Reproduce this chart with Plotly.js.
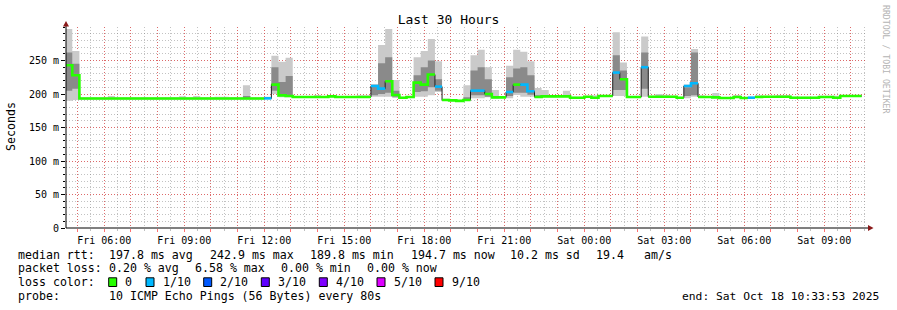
<!DOCTYPE html>
<html><head><meta charset="utf-8">
<script src="https://cdn.plot.ly/plotly-3.0.1.min.js"></script>
<style>html,body{margin:0;padding:0;background:#fff;}#chart{width:897px;height:310px;}</style>
</head><body><div id="chart"></div>
<script>
// ---- time frame ----
const graphStart = '2025-10-17T04:33:53Z';
const graphEnd   = '2025-10-18T10:33:53Z';
const firstBin   = '2025-10-17T04:32:00Z';
const binMinutes = 16;

// ---- median RTT per 16-minute bin (ms) ----
const medianMs = [
 243,228,193.2,193.2,193.2,193.2,193.2,193.2,193.2,193.2,
 193.2,193.2,193.2,193.2,193.2,193.2,193.2,193.2,193.2,193.2,
 193.2,193.2,193.2,193.2,193.2,193.2,193.2,193.2,193.5,214,
 198,197,195.5,195.5,195.5,195.5,195.5,196.5,195.5,195.5,
 195.5,195.5,195.5,212,208,219,198.5,194.5,195.5,217,
 214,229,211,191,190.5,189.8,191,205,205,200,
 195,195,203,214,214,204,195.5,196.5,196.5,196.5,
 196.5,194.5,194.5,196,194.5,197,197,232,222,195.5,
 195.5,240,196,196,196,196,194.5,212,216,195.5,
 195.5,195,194,194,195.5,194,194.5,195.5,196,196,
 196,196,194.5,194.5,194.5,194.5,195.5,195.5,194.5,197,
 197,197
];
// ---- lost pings out of 10 per bin ----
const lossTenths = [
 0,0,0,0,0,0,0,0,0,0, 0,0,0,0,0,0,0,0,0,0,
 0,0,0,0,0,0,0,0,1,0, 0,0,0,0,0,0,0,0,0,0,
 0,0,0,1,1,0,0,0,0,0, 0,0,1,0,0,0,0,1,1,0,
 0,0,1,0,1,1,0,0,0,0, 0,0,0,0,0,0,0,1,0,0,
 0,1,0,0,0,0,0,1,1,0, 0,0,0,0,0,0,1,0,0,0,
 0,0,0,0,0,0,0,0,0,0, 0,0
];
// ---- smoke (ping spread) per bin (ms) ----
const smokeMin = [
 190,191,191.8,191.8,191.8,191.8,191.8,191.8,191.8,191.8,
 191.8,191.8,191.8,191.8,191.8,191.8,191.8,191.8,191.8,191.8,
 191.8,191.8,191.8,191.8,191.8,191.8,191.8,191.8,192,200,
 195,195,194,194,194,194,194,195,194,194,
 194,194,194,196,196,196,194,193,194,196,
 196,198,203,189.8,189.2,188.6,189.8,193.5,193.5,195,
 193,193.5,193.5,198.5,196,196,194,195,195,195,
 195,193,193,194.5,193,195.5,195.5,197,197,194,
 194,196,194.5,194.5,194.5,194.5,193,193.5,196,194,
 194,193.5,192.5,192.5,194,192.5,193,194,194.5,194.5,
 194.5,194.5,193,193,193,193,194,194,193,195.5,
 195.5,195.5
];
const smokeLo = [
 205,208,192.4,192.4,192.4,192.4,192.4,192.4,192.4,192.4,
 192.4,192.4,192.4,192.4,192.4,192.4,192.4,192.4,192.4,192.4,
 192.4,192.4,192.4,192.4,192.4,192.4,192.4,192.4,192.7,205,
 197,196,194.7,194.7,194.7,194.7,194.7,195.7,194.7,194.7,
 194.7,194.7,194.7,198,200,202,196,193.7,194.7,203,
 204,210,205,190.2,189.7,189,190.2,198,198,196,
 194,194.2,197,202,202,199,194.7,195.7,195.7,195.7,
 195.7,193.7,193.7,195.2,193.7,196.2,196.2,206,206,194.7,
 194.7,208,195.2,195.2,195.2,195.2,193.7,197,198,194.7,
 194.7,194.2,193.2,193.2,194.7,193.2,193.7,194.7,195.2,195.2,
 195.2,195.2,193.7,193.7,193.7,193.7,194.7,194.7,193.7,196.2,
 196.2,196.2
];
const smokeHi = [
 262,245,194,194,194,194,194,194,194,194,
 194,194,194,194,194,194,194,194,194,194,
 194,194,194,194,194,197,194,194,194.5,240,
 218,227,196.5,196.5,196.5,196.5,196.5,197.5,196.5,196.5,
 196.5,196.5,196.5,212,246,255,205,195.3,196.3,228,
 240,250,222,191.8,191.3,190.6,195,235,240,222,
 197,196,225,238,240,228,198,197.5,197.3,197.3,
 198,195.3,195.3,196.8,195.5,197.8,197.8,258,235,196.3,
 196.3,262,196.8,197.5,197,196.8,195.3,210,262,196.5,
 196.3,196.5,194.8,194.8,196.5,194.8,195.3,196.5,196.8,196.8,
 197,197,195.3,195.3,195.3,195.3,196.5,196.5,195.5,197.8,
 197.8,197.8
];
const smokeMax = [
 297,264,195,195,195,195,197,195,195,195,
 195,195,195,195,195,195,196.5,195,197,195,
 195,196,196,195.5,195.5,213,195,195,196,257,
 248,254,197,197,197,198.5,197,198,197,197,
 197,198,198,215,273,297,221,196,197,255,
 264,282,249,193,192,191.5,213,258,266,240,
 206,197,242,266,263,249,209,206,198,198,
 205,196,196,197.5,198,198.5,198.5,292,247,197,
 197,286,197.5,200,199,197.5,196,214,267,198,
 197,201.5,195.5,195.5,198.5,195.5,196,198,197.5,197.5,
 198.5,198.5,196,196,196,196,197.5,197.5,197.5,198.5,
 198.5,198.5
];

// ---- loss colour legend ----
const lossLevels = [0,1,2,3,4,5,9];
const lossLabels = ['0','1/10','2/10','3/10','4/10','5/10','9/10'];
const lossColors = ['#26ff00','#00b8ff','#0059ff','#5e00ff','#7e00ff','#dd00ff','#ff0000'];

// ---- axis labels ----
const xTickTimes  = ['2025-10-17T06:00','2025-10-17T09:00','2025-10-17T12:00','2025-10-17T15:00','2025-10-17T18:00',
                     '2025-10-17T21:00','2025-10-18T00:00','2025-10-18T03:00','2025-10-18T06:00','2025-10-18T09:00'];
const xTickLabels = ['Fri 06:00','Fri 09:00','Fri 12:00','Fri 15:00','Fri 18:00',
                     'Fri 21:00','Sat 00:00','Sat 03:00','Sat 06:00','Sat 09:00'];
const yTickVals = [0,50,100,150,200,250];
const yTickText = ['0','50 m','100 m','150 m','200 m','250 m'];

// ---- text block ----
const rttLabel = 'median rtt:';
const rttStats = ['197.8 ms avg','242.9 ms max','189.8 ms min','194.7 ms now','10.2 ms sd','19.4','am/s'];
const lossLabel = 'packet loss:';
const lossStats = ['0.20 % avg','6.58 % max','0.00 % min','0.00 % now'];
const colorLabel = 'loss color:';
const probeLabel = 'probe:';
const probeText = '10 ICMP Echo Pings (56 Bytes) every 80s';
const endText = 'end: Sat Oct 18 10:33:53 2025';

// ================= drawing =================
const ms = s => Date.parse(s.endsWith('Z') ? s : s + ':00Z');
const t0 = ms(graphStart), t1 = ms(graphEnd), b0 = ms(firstBin);
const binMs = binMinutes * 60000;
const nBins = medianMs.length;
const binX = [];
for (let k = 0; k <= nBins; k++) binX.push(b0 + k * binMs);
const ext = a => a.concat([a[a.length - 1]]);

const traces = [];
const band = (y, fill, color) => ({x: binX, y: ext(y), type: 'scatter', mode: 'lines',
  line: {width: 0, shape: 'hv'}, fill: fill, fillcolor: color, hoverinfo: 'skip', showlegend: false});
traces.push(band(smokeMin, 'none'));
traces.push(band(smokeMax, 'tonexty', '#cacaca'));
traces.push(band(smokeLo, 'none'));
traces.push(band(smokeHi, 'tonexty', '#8a8a8a'));
traces.push({x: binX, y: ext(medianMs), type: 'scatter', mode: 'lines',
  line: {color: '#202020', width: 1, shape: 'hv'}, hoverinfo: 'skip', showlegend: false});
lossLevels.forEach((lv, i) => {
  const xs = [], ys = [];
  for (let k = 0; k < nBins; k++) {
    if (lossTenths[k] === lv) {
      xs.push(binX[k]); ys.push(medianMs[k]);
      if (k === nBins - 1 || lossTenths[k + 1] !== lv) {
        xs.push(binX[k + 1]); ys.push(medianMs[k]);
        xs.push(binX[k + 1]); ys.push(null);
      }
    }
  }
  if (xs.length) traces.push({x: xs, y: ys, type: 'scatter', mode: 'lines', connectgaps: false,
    line: {color: lossColors[i], width: 2.6, shape: 'hv'}, hoverinfo: 'skip', showlegend: false});
});

// hourly grid ticks, labels every 3 hours
const labelMs = xTickTimes.map(ms);
const hourVals = [], hourText = [];
for (let t = Math.ceil(t0 / 3600000) * 3600000; t <= t1; t += 3600000) {
  hourVals.push(t);
  const j = labelMs.indexOf(t);
  hourText.push(j >= 0 ? xTickLabels[j] : '');
}

// pixel helpers for decorations
const L = 66, R = 866, T = 27, B = 228;
const px = x => (x - L) / (R - L);
const py = y => (B - y) / (B - T);
const mono = 'DejaVu Sans Mono';
const ann = [];
const txt = (x, y, s, extra) => ann.push(Object.assign({xref: 'paper', yref: 'paper', x: px(x), y: py(y),
  text: s, showarrow: false, xanchor: 'left', yanchor: 'middle',
  font: {family: mono, size: 11.6, color: '#000'}}, extra || {}));

txt(16, 254.5, rttLabel);
[107, 207.5, 308, 408.5, 508, 593.5, 642.3].forEach((x, i) => txt(x, 254.5, rttStats[i]));
txt(16, 268.3, lossLabel);
[107, 192.7, 279, 365.3].forEach((x, i) => txt(x, 268.3, lossStats[i]));
txt(16, 282.3, colorLabel);
const swX = [108.7, 146, 203.7, 261.3, 319.3, 377, 435];
const shapes = [];
swX.forEach((x, i) => {
  shapes.push({type: 'rect', xref: 'paper', yref: 'paper', x0: px(x), x1: px(x + 8), y0: py(286.5), y1: py(277.8),
    fillcolor: lossColors[i], line: {color: '#000', width: 1}});
  txt(x + 14.6, 282.3, lossLabels[i]);
});
txt(16, 296, probeLabel);
txt(107, 296, probeText);
txt(880.7, 296, endText, {xanchor: 'right', font: {family: mono, size: 11.3, color: '#000'}});
// y axis title
ann.push({xref: 'paper', yref: 'paper', x: px(11), y: py(126), text: 'Seconds', showarrow: false,
  textangle: -90, xanchor: 'center', yanchor: 'middle', font: {family: mono, size: 11.6, color: '#000'}});
// watermark
ann.push({xref: 'paper', yref: 'paper', x: px(886), y: py(60), text: 'RRDTOOL / TOBI OETIKER', showarrow: false,
  textangle: 90, xanchor: 'center', yanchor: 'middle', font: {family: mono, size: 8.2, color: '#b4b4b4'}});

// axis extensions + arrows
shapes.push({type: 'line', xref: 'paper', yref: 'paper', x0: px(66), x1: px(66), y0: py(228), y1: py(23), line: {color: '#000', width: 1}});
shapes.push({type: 'line', xref: 'paper', yref: 'paper', x0: px(66), x1: px(870), y0: py(228), y1: py(228), line: {color: '#000', width: 1}});
shapes.push({type: 'path', xref: 'paper', yref: 'paper', fillcolor: '#8b1a1a', line: {width: 0},
  path: `M ${px(63)} ${py(26.5)} L ${px(69)} ${py(26.5)} L ${px(66)} ${py(21)} Z`});
shapes.push({type: 'path', xref: 'paper', yref: 'paper', fillcolor: '#8b1a1a', line: {width: 0},
  path: `M ${px(868)} ${py(225)} L ${px(868)} ${py(231)} L ${px(873.5)} ${py(228)} Z`});

const redGrid = 'rgba(255,0,0,0.45)';
const grayGrid = 'rgba(120,120,120,0.45)';
const layout = {
  width: 897, height: 310, margin: {l: L, r: 897 - R, t: T, b: 310 - B},
  paper_bgcolor: '#ffffff', plot_bgcolor: '#ffffff', showlegend: false,
  title: {text: 'Last 30 Hours', font: {family: mono, size: 13, color: '#000'},
    x: 0.5, xref: 'container', xanchor: 'center', y: 1 - 19.5 / 310, yref: 'container', yanchor: 'middle'},
  xaxis: {type: 'date', range: [t0, t1], fixedrange: true,
    tickmode: 'array', tickvals: hourVals, ticktext: hourText,
    ticks: 'outside', ticklen: 3, tickcolor: '#ff7070', tickwidth: 1,
    showgrid: true, gridcolor: redGrid, griddash: '1px,2px', gridwidth: 1,
    minor: {tickmode: 'linear', tick0: ms('2025-10-17T00:00'), dtick: 1800000, showgrid: true,
      gridcolor: grayGrid, griddash: '1px,2px', gridwidth: 1, ticks: 'outside', ticklen: 2, tickcolor: '#c0c0c0'},
    showline: false, zeroline: false,
    tickfont: {family: mono, size: 10, color: '#000'}},
  yaxis: {range: [0, 300], fixedrange: true, tickmode: 'array', tickvals: yTickVals, ticktext: yTickText,
    ticks: 'outside', ticklen: 4, tickcolor: '#000', tickwidth: 1,
    showgrid: true, gridcolor: redGrid, griddash: '1px,2px', gridwidth: 1,
    minor: {tickmode: 'linear', tick0: 0, dtick: 10, showgrid: true, gridcolor: grayGrid, griddash: '1px,2px',
      gridwidth: 1, ticks: 'outside', ticklen: 2, tickcolor: '#000'},
    showline: false, zeroline: false,
    tickfont: {family: mono, size: 10, color: '#000'}},
  annotations: ann, shapes: shapes
};
Plotly.newPlot('chart', traces, layout, {staticPlot: true, displayModeBar: false});
</script></body></html>
